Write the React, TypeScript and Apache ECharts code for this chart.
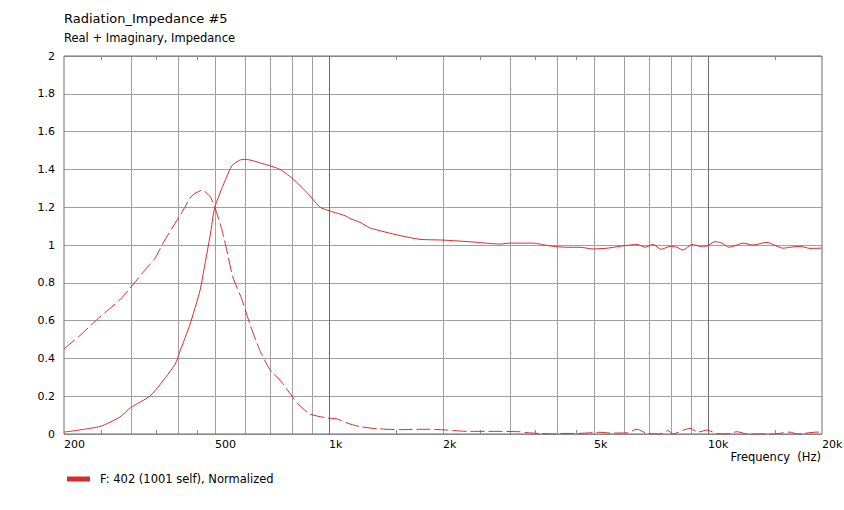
import React, { useEffect, useRef } from "react";
import * as echarts from "echarts";

// Real part (solid)
const realFreq = [200, 249, 281, 300, 337, 358, 393, 405, 430, 457, 471, 486, 500, 532, 555, 583, 604, 670, 743, 814, 891, 947, 1006, 1103, 1137, 1208, 1284, 1540, 1739, 2000, 2400, 2829, 3004, 3136, 3456, 3831, 4248, 4598, 4976, 5416, 5862, 6500, 6824, 7164, 7522, 7944, 8288, 8596, 9078, 9532, 9946, 10442, 10892, 11366, 11932, 12376, 13150, 14318, 15218, 15782, 16468, 17500, 18592, 19756, 20000];
const realVal = [0.01, 0.04, 0.09, 0.14, 0.2, 0.26, 0.37, 0.44, 0.58, 0.76, 0.9, 1.05, 1.2, 1.34, 1.42, 1.45, 1.453, 1.43, 1.4, 1.34, 1.26, 1.2, 1.18, 1.155, 1.14, 1.12, 1.09, 1.05, 1.03, 1.026, 1.016, 1.005, 1.01, 1.01, 1.01, 0.995, 0.988, 0.988, 0.979, 0.983, 0.993, 1.003, 0.988, 1.003, 0.977, 0.993, 0.988, 0.973, 1.003, 0.993, 0.995, 1.018, 1.01, 0.988, 1.0, 1.01, 1.0, 1.014, 0.993, 0.983, 0.988, 0.993, 0.982, 0.983, 0.985];

// Imaginary part (dashed)
const imagFreq = [200, 220, 249, 281, 304, 331, 348, 365, 386, 410, 435, 463, 486, 500, 522, 538, 558, 590, 619, 658, 699, 743, 799, 824, 891, 988, 1050, 1116, 1208, 1340, 1540, 1815, 2050, 2314, 2710, 3194, 3332, 3606, 3902, 4146, 4514, 5190, 5516, 6116, 6500, 6908, 7476, 7850, 8090, 8596, 8970, 9416, 9946, 10568, 11228, 11932, 12680, 14852, 16468, 17182, 19400, 20000];
const imagVal = [0.45, 0.52, 0.62, 0.71, 0.79, 0.88, 0.93, 1.01, 1.09, 1.175, 1.26, 1.29, 1.256, 1.2, 1.08, 0.97, 0.83, 0.71, 0.58, 0.44, 0.34, 0.285, 0.2, 0.164, 0.106, 0.085, 0.08, 0.058, 0.039, 0.028, 0.023, 0.025, 0.021, 0.014, 0.014, 0.012, 0.007, 0.003, 0.0, 0.003, 0.003, 0.009, 0.005, 0.006, 0.025, 0.003, 0.0, 0.018, 0.0, 0.02, 0.03, 0.01, 0.021, 0.002, 0.0, 0.012, 0.0, 0.0, 0.01, 0.0, 0.01, 0.01];

const gridMinorFreqs = [300, 400, 500, 600, 700, 800, 900, 2000, 3000, 4000, 5000, 6000, 7000, 8000, 9000];
const gridMajorFreqs = [1000, 10000];
const smallTickFreqs = [250, 350, 450, 1500, 2500, 3500, 4500, 15000];
const xLabelFreqs = [200, 500, 1000, 2000, 5000, 10000, 20000];
const xLabelTexts = ["200", "500", "1k", "2k", "5k", "10k", "20k"];

const TITLE = "Radiation_Impedance #5";
const SUBTITLE = "Real + Imaginary, Impedance";
const SERIES_NAME = "F: 402 (1001 self), Normalized";
const X_NAME = "Frequency  (Hz)";

const RED = "#d92b2b";
const FONT = "DejaVu Sans";

export default function App() {
  const ref = useRef<HTMLDivElement>(null);
  useEffect(() => {
    if (!ref.current) return;
    const chart = echarts.init(ref.current, undefined, { renderer: "svg" });
    const zip = (a: number[], b: number[]) => a.map((v, i) => [v, b[i]]);
    const vLine = (color: string) => (params: any, api: any) => {
      const f = api.value(0);
      const t = api.coord([f, 2]);
      const b = api.coord([f, 0]);
      const x = Math.round(t[0]) + 0.5;
      return {
        type: "line",
        shape: { x1: x, y1: t[1], x2: x, y2: b[1] },
        style: { stroke: color, lineWidth: 1 },
        silent: true,
      };
    };
    chart.setOption({
      animation: false,
      backgroundColor: "#fff",
      textStyle: { fontFamily: FONT },
      grid: {
        left: 64,
        top: 56,
        width: 758,
        height: 378,
        show: true,
        borderColor: "#6e6e6e",
        borderWidth: 1,
        backgroundColor: "transparent",
        z: 5,
      },
      xAxis: {
        type: "log",
        logBase: 10,
        min: 200,
        max: 20000,
        axisLine: { show: false },
        axisTick: { show: false },
        axisLabel: { show: false },
        splitLine: { show: false },
        minorSplitLine: { show: false },
      },
      yAxis: {
        type: "value",
        min: 0,
        max: 2,
        interval: 0.2,
        axisLine: { show: false },
        axisTick: { show: false },
        axisLabel: { margin: 9, color: "#000", fontSize: 11, fontFamily: FONT },
        splitLine: { lineStyle: { color: "#a0a0a0", width: 1 } },
      },
      legend: {
        data: [SERIES_NAME],
        left: 67,
        top: 473,
        padding: 0,
        icon: "rect",
        itemWidth: 23,
        itemHeight: 5,
        selectedMode: false,
        itemStyle: { color: RED, borderWidth: 0 },
        lineStyle: { width: 0 },
        textStyle: { color: "#000", fontSize: 11.5, fontFamily: FONT, padding: [0, 0, 4, 5] },
      },
      graphic: [
        { type: "text", left: 64, top: 12, style: { text: TITLE, fill: "#000", font: `13px ${FONT}` } },
        { type: "text", left: 64, top: 32, style: { text: SUBTITLE, fill: "#000", font: `11.5px ${FONT}` } },
        { type: "text", right: 23, top: 451, style: { text: X_NAME, fill: "#000", font: `11.5px ${FONT}` } },
      ],
      series: [
        {
          type: "custom",
          name: "gridMinor",
          data: gridMinorFreqs.map((f) => [f, 0]),
          encode: { x: 0, y: 1 },
          renderItem: vLine("#a0a0a0"),
          silent: true,
          z: 1,
        },
        {
          type: "custom",
          name: "gridMajor",
          data: gridMajorFreqs.map((f) => [f, 0]),
          encode: { x: 0, y: 1 },
          renderItem: vLine("#6e6e6e"),
          silent: true,
          z: 1,
        },
        {
          type: "custom",
          name: "smallTicks",
          data: smallTickFreqs.map((f) => [f, 0]),
          encode: { x: 0, y: 1 },
          clip: false,
          silent: true,
          z: 6,
          renderItem: (params: any, api: any) => {
            const f = api.value(0);
            const t = api.coord([f, 2]);
            const b = api.coord([f, 0]);
            const x = Math.round(t[0]) + 0.5;
            return {
              type: "group",
              children: [
                { type: "line", shape: { x1: x, y1: t[1], x2: x, y2: t[1] + 4 }, style: { stroke: "#8a8a8a", lineWidth: 1 } },
                { type: "line", shape: { x1: x, y1: b[1], x2: x, y2: b[1] - 4 }, style: { stroke: "#8a8a8a", lineWidth: 1 } },
              ],
            };
          },
        },
        {
          type: "custom",
          name: "xLabels",
          data: xLabelFreqs.map((f, i) => [f, 0, i]),
          encode: { x: 0, y: 1 },
          clip: false,
          silent: true,
          renderItem: (params: any, api: any) => {
            const f = api.value(0);
            const i = api.value(2);
            const b = api.coord([f, 0]);
            return {
              type: "text",
              x: Math.round(b[0]),
              y: b[1] + 10,
              style: {
                text: xLabelTexts[i],
                fill: "#000",
                font: `11px ${FONT}`,
                textAlign: "left",
                textVerticalAlign: "middle",
              },
            };
          },
        },
        {
          type: "line",
          name: SERIES_NAME,
          data: zip(realFreq, realVal),
          showSymbol: false,
          symbol: "none",
          smooth: 0.2,
          color: RED,
          lineStyle: { color: RED, width: 1 },
          z: 10,
        },
        {
          type: "line",
          name: SERIES_NAME,
          data: zip(imagFreq, imagVal),
          showSymbol: false,
          symbol: "none",
          smooth: 0.2,
          color: RED,
          lineStyle: { color: RED, width: 1, type: [14, 4] },
          z: 10,
        },
      ],
    });
    return () => chart.dispose();
  }, []);
  return (
    <div
      ref={ref}
      style={{ position: "fixed", left: 0, top: 0, width: 844, height: 510, background: "#fff" }}
    />
  );
}
